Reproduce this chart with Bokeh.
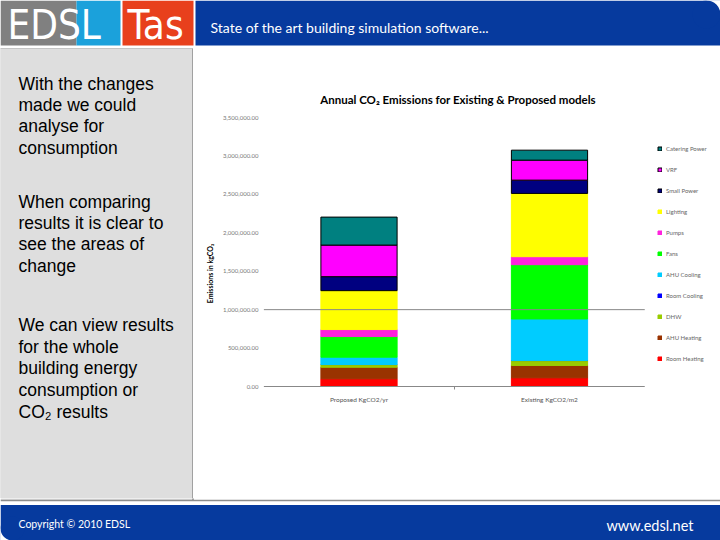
from bokeh.plotting import figure
from bokeh.models import (Range1d, NumeralTickFormatter, FixedTicker,
                          Legend, LegendItem, ColumnDataSource)
from bokeh.layouts import column, row
from bokeh.embed import file_html
from bokeh.resources import INLINE
from bokeh.core.properties import value

# ---------------- data ----------------
categories = ["Proposed KgCO2/yr", "Existing KgCO2/m2"]
series_names = ["Room Heating", "AHU Heating", "DHW", "Room Cooling", "AHU Cooling",
                "Fans", "Pumps", "Lighting", "Small Power", "VRF", "Catering Power"]
room_heating = [100000, 113000]
ahu_heating = [151000, 160000]
dhw = [35000, 65000]
room_cooling = [0, 0]
ahu_cooling = [95000, 541000]
fans = [269000, 706000]
pumps = [91000, 104000]
lighting = [506000, 823000]
small_power = [182000, 173000]
vrf = [411000, 260000]
catering_power = [364000, 130000]
y_ticks = [0, 500000, 1000000, 1500000, 2000000, 2500000, 3000000, 3500000]
grid_values = [0, 1000000]
chart_title = "Annual CO\u2082 Emissions for Existing & Proposed models"

series_values = [room_heating, ahu_heating, dhw, room_cooling, ahu_cooling,
                 fans, pumps, lighting, small_power, vrf, catering_power]
series_colors = ["#FF0000", "#993300", "#99CC00", "#0000FF", "#00CCFF",
                 "#00FF00", "#FF22DD", "#FFFF00", "#000080", "#FF00FF", "#008080"]
series_lines = ["#FF0000", "#993300", "#99CC00", "#0000FF", "#00CCFF",
                "#00FF00", "#FF22DD", "#FFFF00", "#000000", "#000000", "#000000"]

left_block1 = ["With the changes", "made we could", "analyse for", "consumption"]
left_block2 = ["When comparing", "results it is clear to", "see the areas of", "change"]
left_block3 = ["We can view results", "for the whole", "building energy",
               "consumption or", "CO\u2082 results"]

BLUE = "#063a9e"
PANEL = "#DEDEDE"
EDGE = "#8C8C8C"
NARROW = value("'Liberation Sans Narrow', 'DejaVu Sans Condensed', 'Liberation Sans', sans-serif")

# layout constants (page pixels)
MID_TOP, MID_BOTTOM, BORDER_B = 48, 498, 0
FRAME_BOTTOM = MID_BOTTOM - BORDER_B
ZERO_PX, TOP_PX, TITLE_PX = 386, 117, 99
FRAME_L, FRAME_R = 263, 720


def deco(w, h, x0, x1, y0, y1, **kw):
    f = figure(width=w, height=h, x_range=Range1d(x0, x1), y_range=Range1d(y1, y0),
               output_backend="svg", toolbar_location=None, title=None,
               min_border=0, **kw)
    f.axis.visible = False
    f.grid.visible = False
    f.outline_line_color = None
    f.background_fill_color = "white"
    f.border_fill_color = "white"
    return f


# ---------------- header ----------------
hdr = deco(720, 48, 0, 720, 0, 48)
hdr.quad(left=[0], right=[76], top=[0], bottom=[45], fill_color="#808080", line_color=None)
hdr.quad(left=[76], right=[120], top=[0], bottom=[45], fill_color="#1BA1DB", line_color=None)
hdr.quad(left=[122], right=[193], top=[0], bottom=[45], fill_color="#E8401C", line_color=None)
hdr.quad(left=[195], right=[720], top=[0], bottom=[45], fill_color=BLUE, line_color=None)
# rounded top-right corner
hdr.quad(left=[706], right=[721], top=[-1], bottom=[14], fill_color="white", line_color=None)
hdr.wedge(x=[706], y=[14], radius=14, start_angle=0, end_angle=360,
          start_angle_units="deg", end_angle_units="deg", fill_color=BLUE, line_color=None)
hdr.text(x=[7], y=[24], text=["EDSL"], text_font=NARROW, text_font_size="40px",
         text_color="white", text_baseline="middle")
hdr.text(x=[127], y=[24], text=["Tas"], text_font=NARROW, text_font_size="40px",
         text_color="white", text_baseline="middle")
hdr.text(x=[210], y=[27], text=["State of the art building simulation software..."],
         text_font=value("Lato"), text_font_size="14px", text_color="white",
         text_baseline="middle")

# ---------------- left panel ----------------
lp = deco(193, MID_BOTTOM - MID_TOP, 0, 193, MID_TOP, FRAME_BOTTOM,
          min_border_bottom=BORDER_B)
lp.y_range = Range1d(FRAME_BOTTOM, MID_TOP)
lp.border_fill_color = PANEL
lp.background_fill_color = PANEL
lp.quad(left=[-5], right=[192.5], top=[47.5], bottom=[520], fill_color=PANEL,
        line_color=EDGE, line_width=1.5)
for block, ys in ((left_block1, [83, 104, 125, 147]),
                  (left_block2, [201, 222, 243, 265]),
                  (left_block3, [324, 346, 367, 389, 411])):
    lp.text(x=[18] * len(block), y=ys, text=block, text_font=value("Liberation Sans"),
            text_font_size="17.5px", text_color="black", text_baseline="middle")

# ---------------- chart ----------------
x_pos = list(range(len(categories)))
src = {"x": x_pos}
keys = []
for name, vals in zip(series_names, series_values):
    k = name.replace(" ", "_")
    src[k] = vals
    keys.append(k)
source = ColumnDataSource(src)

upp = y_ticks[-1] / (ZERO_PX - TOP_PX)          # data units per pixel
ppu = 190.5                                      # pixels per category
x_start = -(358.5 - FRAME_L) / ppu
x_end = x_start + (FRAME_R - FRAME_L) / ppu
y_start = -(FRAME_BOTTOM - ZERO_PX) * upp
y_end = y_ticks[-1] + (TOP_PX - MID_TOP) * upp

p = figure(width=720 - 193, height=MID_BOTTOM - MID_TOP, title=None,
           x_range=Range1d(x_start, x_end), y_range=Range1d(y_start, y_end),
           output_backend="svg", toolbar_location=None,
           min_border_left=FRAME_L - 193, min_border_right=0, min_border_top=0,
           min_border_bottom=BORDER_B)
p.background_fill_color = "white"
p.border_fill_color = "white"
p.outline_line_color = None
p.grid.visible = False

renderers = p.vbar_stack(keys, x="x", width=0.4, source=source,
                         fill_color=series_colors, line_color=series_lines, line_width=1)

# base line and 1,000,000 grid line spanning the category band
p.segment(x0=[x_pos[0] - 0.5] * 2, x1=[x_pos[-1] + 0.5] * 2, y0=grid_values,
          y1=grid_values, line_color="#888888", line_width=1)

# chart title
p.text(x=[(x_pos[0] + x_pos[-1]) / 2 + 0.02], y=[y_ticks[-1] + (TOP_PX - TITLE_PX) * upp],
       text=[chart_title], text_font=value("Lato"), text_font_size="11.5px",
       text_font_style="bold", text_color="black", text_align="center",
       text_baseline="middle")

p.yaxis.ticker = FixedTicker(ticks=y_ticks)
p.yaxis.formatter = NumeralTickFormatter(format="0,0.00")
p.yaxis.axis_line_color = None
p.yaxis.major_tick_line_color = None
p.yaxis.major_tick_out = 0
p.yaxis.major_tick_in = 0
p.yaxis.minor_tick_line_color = None
p.yaxis.major_label_text_font = "Lato"
p.yaxis.major_label_text_font_size = "6px"
p.yaxis.major_label_text_color = "#777777"
p.yaxis.major_label_standoff = 5
p.yaxis.axis_label = "Emissions in kgCO\u2082"
p.yaxis.axis_label_text_font = "Lato"
p.yaxis.axis_label_text_font_size = "7px"
p.yaxis.axis_label_text_font_style = "bold"
p.yaxis.axis_label_text_color = "black"
p.yaxis.axis_label_standoff = 6

p.xaxis.fixed_location = 0
p.xaxis.ticker = FixedTicker(ticks=x_pos, minor_ticks=[0.5])
p.xaxis.major_label_overrides = {i: c for i, c in zip(x_pos, categories)}
p.xaxis.axis_line_color = None
p.xaxis.major_tick_line_color = None
p.xaxis.major_tick_out = 0
p.xaxis.major_tick_in = 0
p.xaxis.minor_tick_line_color = "#888888"
p.xaxis.minor_tick_in = 0
p.xaxis.minor_tick_out = 3
p.xaxis.major_label_text_font = "Lato"
p.xaxis.major_label_text_font_size = "6.5px"
p.xaxis.major_label_text_color = "#555555"
p.xaxis.major_label_standoff = 6

items = [LegendItem(label=n, renderers=[r]) for n, r in zip(series_names, renderers)]
items.reverse()
legend = Legend(items=items, location=(657 - FRAME_L, FRAME_BOTTOM - 362),
                glyph_width=5, glyph_height=5,
                label_height=8, spacing=13, padding=0, margin=0, label_standoff=4,
                label_text_font="Lato", label_text_font_size="6px",
                label_text_color="#666666", border_line_color=None,
                background_fill_alpha=0)
p.add_layout(legend)

# ---------------- footer ----------------
ft = deco(720, 42, 0, 720, 498, 540)
ft.quad(left=[0], right=[193], top=[490], bottom=[500], fill_color=PANEL, line_color=None)
ft.segment(x0=[192.5], y0=[490], x1=[192.5], y1=[500], line_color=EDGE, line_width=1.5)
ft.segment(x0=[0], y0=[500], x1=[720], y1=[500], line_color=EDGE, line_width=1.5)
ft.quad(left=[0], right=[720], top=[504.5], bottom=[545], fill_color=BLUE, line_color=None)
# rounded bottom-left corner
ft.quad(left=[-1], right=[12], top=[528], bottom=[541], fill_color="white", line_color=None)
ft.wedge(x=[12], y=[528], radius=12, start_angle=0, end_angle=360,
         start_angle_units="deg", end_angle_units="deg", fill_color=BLUE, line_color=None)
ft.text(x=[18], y=[523], text=["Copyright \u00a9 2010 EDSL"], text_font=value("Lato"),
        text_font_size="10.5px", text_color="white", text_baseline="middle")
ft.text(x=[693], y=[525], text=["www.edsl.net"], text_font=value("Lato"),
        text_font_size="14.5px", text_color="white", text_baseline="middle",
        text_align="right")

layout = column(hdr, row(lp, p), ft)
open("out.html", "w").write(file_html(layout, INLINE))
